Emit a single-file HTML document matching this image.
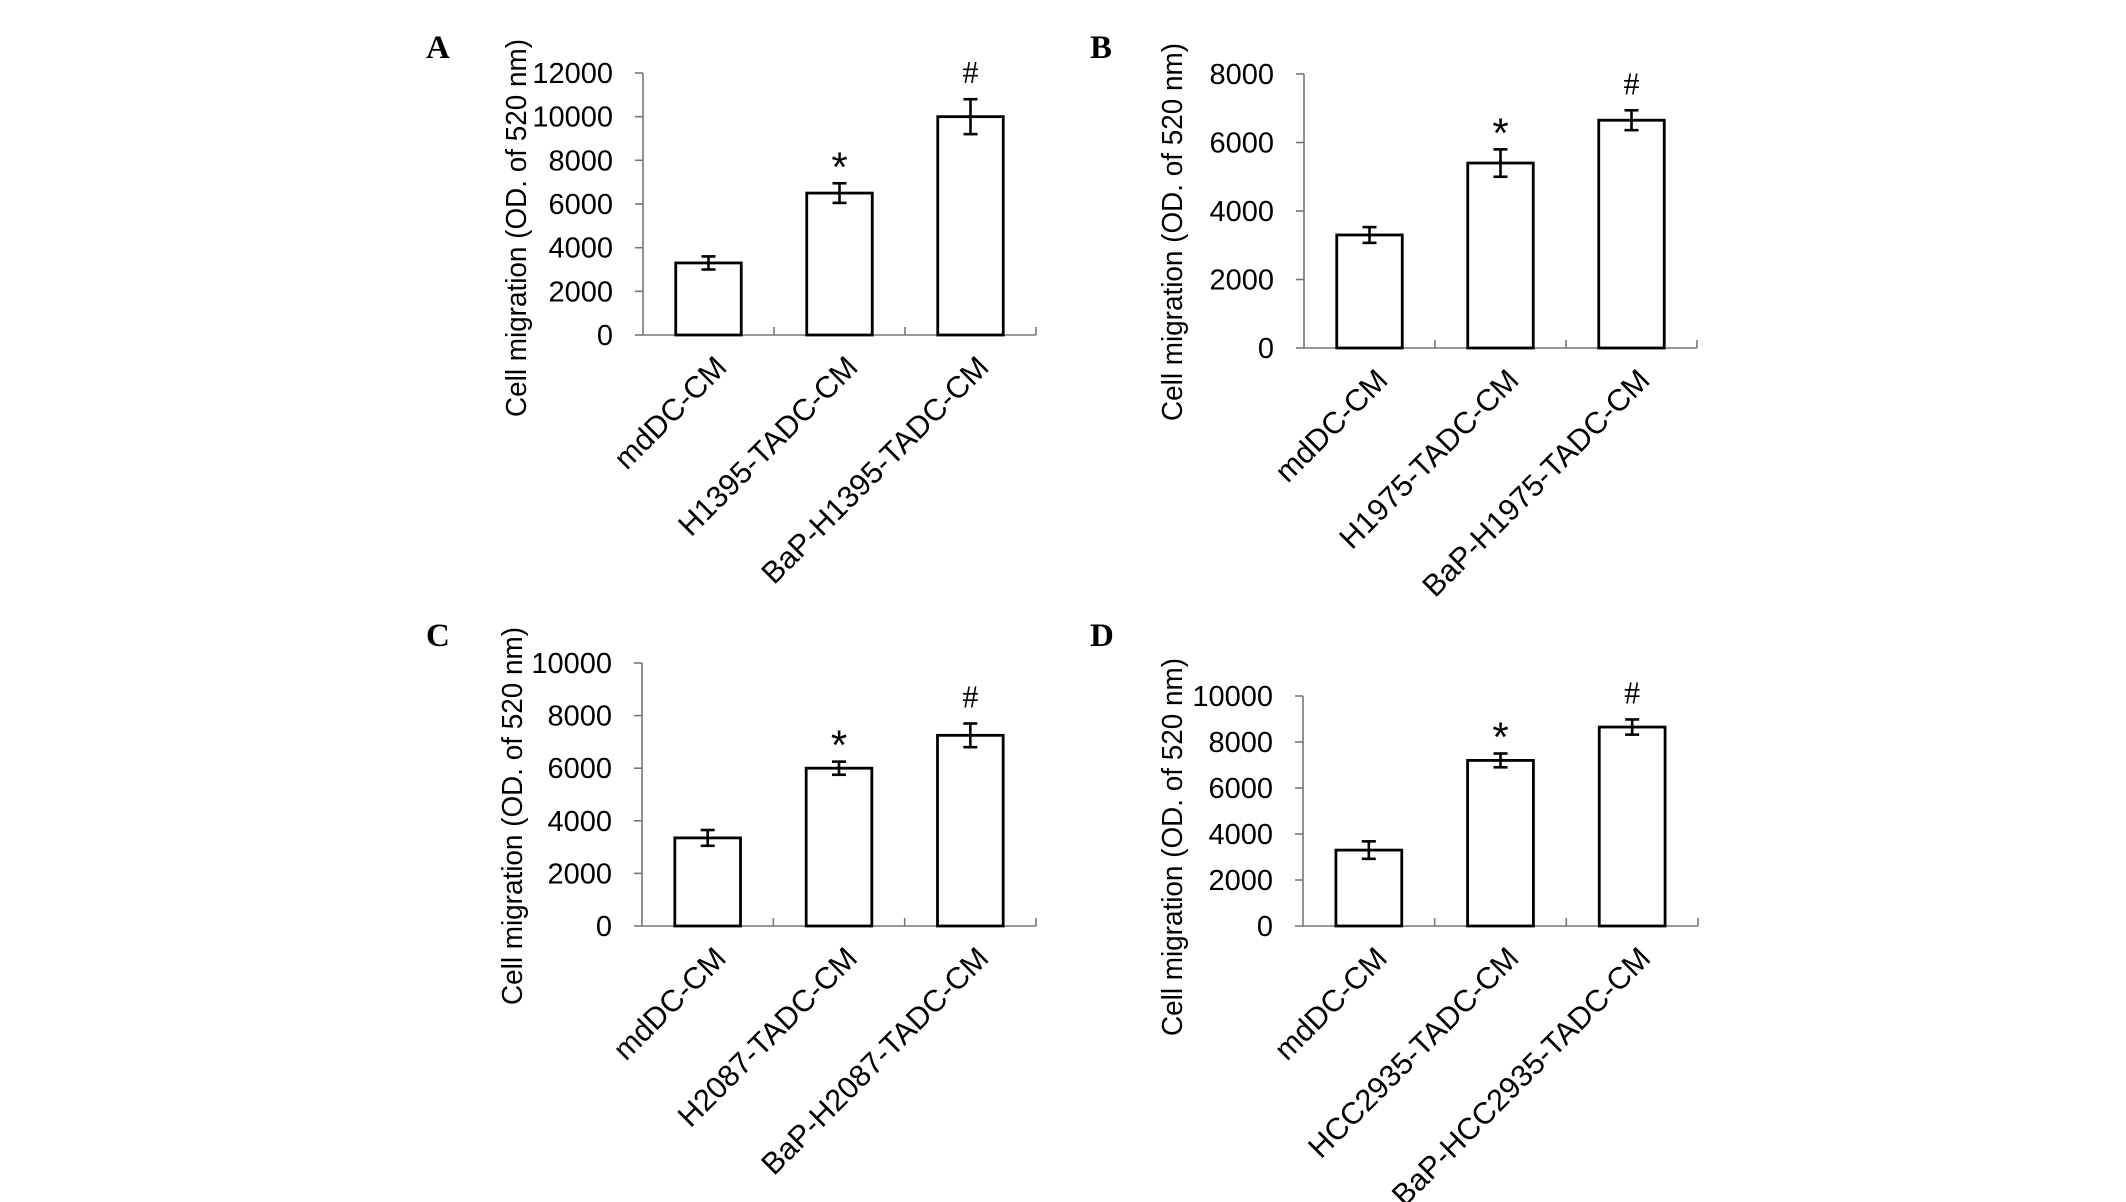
<!DOCTYPE html>
<html><head><meta charset="utf-8">
<style>
html,body{margin:0;padding:0;background:#fff;}
svg{display:block;}
</style></head>
<body>
<svg id="fig" width="2126" height="1202" viewBox="0 0 2126 1202" xmlns="http://www.w3.org/2000/svg"></svg>
<script>
// Panel data
const panelLetters = ["A","B","C","D"];
const catsA = ["mdDC-CM","H1395-TADC-CM","BaP-H1395-TADC-CM"];
const catsB = ["mdDC-CM","H1975-TADC-CM","BaP-H1975-TADC-CM"];
const catsC = ["mdDC-CM","H2087-TADC-CM","BaP-H2087-TADC-CM"];
const catsD = ["mdDC-CM","HCC2935-TADC-CM","BaP-HCC2935-TADC-CM"];
const valsA = [3300, 6500, 10000];
const errsA = [300, 450, 800];
const valsB = [3300, 5400, 6650];
const errsB = [230, 400, 290];
const valsC = [3350, 6000, 7250];
const errsC = [300, 250, 450];
const valsD = [3300, 7200, 8650];
const errsD = [380, 300, 330];
const ticksA = [0,2000,4000,6000,8000,10000,12000];
const ticksB = [0,2000,4000,6000,8000];
const ticksC = [0,2000,4000,6000,8000,10000];
const ticksD = [0,2000,4000,6000,8000,10000];
const marks = ["", "*", "#"];
const yTitle = "Cell migration (OD. of 520 nm)";

// layout (not data)
const layouts = [
  {x0:643, x1:1036, y0:335, yTop:73,  letter:[426,58],  title:[516,228]},
  {x0:1304,x1:1697, y0:348, yTop:74,  letter:[1090,58], title:[1172,232]},
  {x0:642, x1:1036, y0:926, yTop:663, letter:[426,646], title:[512,816]},
  {x0:1303,x1:1698, y0:926, yTop:696, letter:[1090,646],title:[1172,847]}
];
const allCats=[catsA,catsB,catsC,catsD], allVals=[valsA,valsB,valsC,valsD], allErrs=[errsA,errsB,errsC,errsD], allTicks=[ticksA,ticksB,ticksC,ticksD];

const NS="http://www.w3.org/2000/svg";
const svg=document.getElementById('fig');
function mk(tag, attrs, parent){const e=document.createElementNS(NS,tag);for(const k in attrs)e.setAttribute(k,attrs[k]);(parent||svg).appendChild(e);return e;}

for(let p=0;p<4;p++){
  const L=layouts[p], cats=allCats[p], vals=allVals[p], errs=allErrs[p], ticks=allTicks[p];
  const g=mk('g',{});
  
  
  const yMax=ticks[ticks.length-1];
  const yS=v=>L.y0-(v/yMax)*(L.y0-L.yTop);
  const cw=(L.x1-L.x0)/cats.length;
  const xC=i=>L.x0+cw*(i+0.5);
  const bw=cw*0.5;

  const lt=mk('text',{x:L.letter[0],y:L.letter[1],'font-family':'Liberation Serif, serif','font-weight':'bold','font-size':33,fill:'#000'},g);
  lt.textContent=panelLetters[p];
  
  

  const ya=mk('line',{x1:L.x0,y1:L.yTop,x2:L.x0,y2:L.y0,stroke:'#777','stroke-width':1.6},g);
  
  
  const xa=mk('line',{x1:L.x0,y1:L.y0,x2:L.x1,y2:L.y0,stroke:'#777','stroke-width':1.6},g);
  
  

  ticks.forEach(t=>{
    const y=yS(t);
    mk('line',{x1:L.x0-8,y1:y,x2:L.x0,y2:y,stroke:'#777','stroke-width':1.6},g);
    const tx=mk('text',{x:L.x0-30,y:y+10,'text-anchor':'end','font-family':'Liberation Sans, Arial, sans-serif','font-size':29,fill:'#000'},g);
    tx.textContent=t;
    
    
  });
  for(let i=1;i<=cats.length;i++){
    const x=L.x0+cw*i;
    mk('line',{x1:x,y1:L.y0-8,x2:x,y2:L.y0,stroke:'#777','stroke-width':1.6},g);
  }

  const tt=mk('text',{x:0,y:0,'text-anchor':'middle','font-family':'Liberation Sans, Arial, sans-serif','font-size':29,fill:'#000',transform:`translate(${L.title[0]+10},${L.title[1]}) rotate(-90)`,textLength:378,lengthAdjust:'spacingAndGlyphs'},g);
  tt.textContent=yTitle;
  
  

  cats.forEach((c,i)=>{
    const x=xC(i), top=yS(vals[i]);
    const r=mk('rect',{x:x-bw/2,y:top,width:bw,height:L.y0-top,fill:'#fff',stroke:'#000','stroke-width':2.8},g);
    
    
    const eh=yS(vals[i]+errs[i]), el=yS(vals[i]-errs[i]);
    const eg=mk('g',{stroke:'#000','stroke-width':2.6},g);
    
    
    mk('line',{x1:x,y1:eh,x2:x,y2:el},eg);
    mk('line',{x1:x-7,y1:eh,x2:x+7,y2:eh},eg);
    mk('line',{x1:x-7,y1:el,x2:x+7,y2:el},eg);
    if(marks[i]){
      const m=mk('text',{x:x,y:marks[i]==='*'?eh-2:eh-16,'text-anchor':'middle','font-family':marks[i]==='*'?'Liberation Sans, Arial, sans-serif':'Liberation Serif, serif','font-size':marks[i]==='*'?42:32,fill:'#000'},g);
      m.textContent=marks[i];
      
      
    }
    const lx=x+20, ly=L.y0+34;
    const xl=mk('text',{x:0,y:0,'text-anchor':'end','font-family':'Liberation Sans, Arial, sans-serif','font-size':30.5,fill:'#000',transform:`translate(${lx},${ly}) rotate(-45)`},g);
    xl.textContent=c;
    
    
  });
}
</script>
</body></html>
